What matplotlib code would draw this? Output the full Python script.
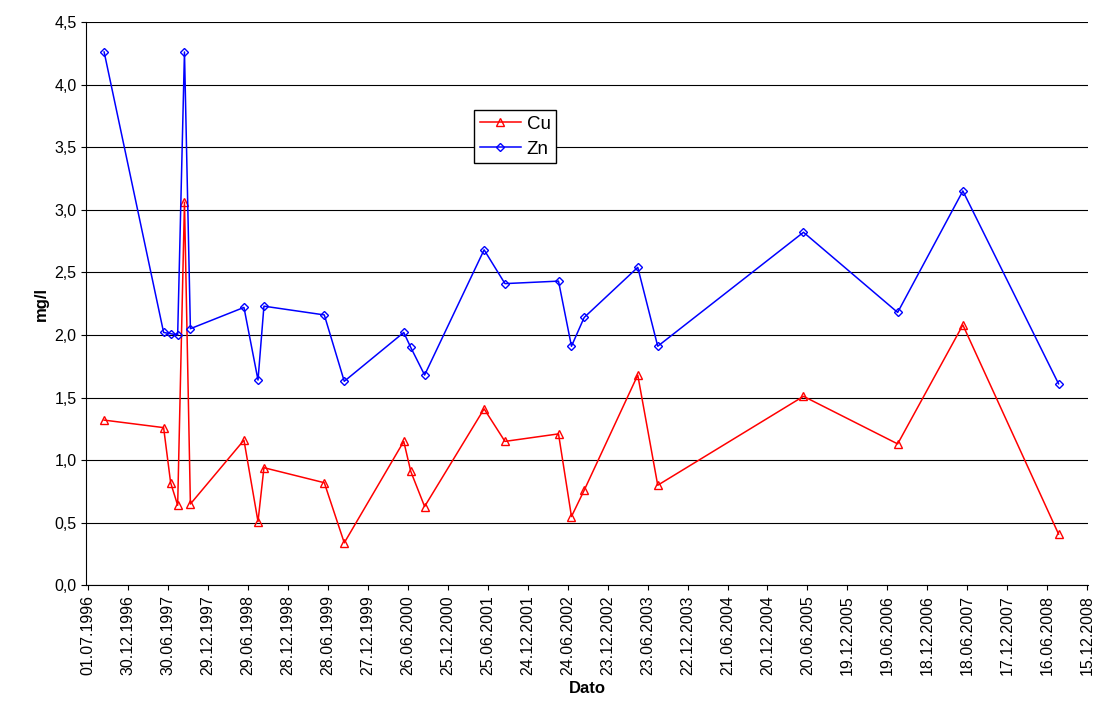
import matplotlib
matplotlib.use("Agg")
import matplotlib.pyplot as plt
import numpy as np
import datetime as dt

plt.rcParams['font.family'] = ['Liberation Sans', 'DejaVu Sans']

dates = ["1996-09-11","1997-06-09","1997-07-11","1997-08-12","1997-09-12","1997-10-09",
         "1998-06-10","1998-08-13","1998-09-09","1999-06-11","1999-09-10","2000-06-07",
         "2000-07-09","2000-09-10","2001-06-08","2001-09-11","2002-05-13","2002-07-11",
         "2002-09-07","2003-05-09","2003-08-08","2005-06-02","2006-08-05","2007-05-29",
         "2008-08-07"]
zn = [4.26,2.02,2.01,2.00,4.26,2.05,2.22,1.64,2.23,2.16,1.63,2.02,1.90,1.68,2.68,2.41,
      2.43,1.91,2.14,2.54,1.91,2.82,2.18,3.15,1.61]
cu = [1.32,1.26,0.82,0.64,3.06,0.65,1.16,0.51,0.94,0.82,0.34,1.15,0.91,0.63,1.41,1.15,
      1.21,0.55,0.76,1.68,0.80,1.51,1.13,2.08,0.41]

x = [dt.datetime.strptime(d, "%Y-%m-%d") for d in dates]
start = dt.datetime(1996, 7, 1)
ticks = [start + dt.timedelta(days=182*i) for i in range(26)]

fig = plt.figure(figsize=(10.93, 7.07), dpi=100)
ax = fig.add_axes([0.079, 0.172, 0.916, 0.797])
ax.plot(x, cu, color="red", marker="^", markersize=6, markerfacecolor="none", lw=1.1, label="Cu")
ax.plot(x, zn, color="blue", marker="D", markersize=4.5, markerfacecolor="none", lw=1.1, label="Zn")
ax.set_ylim(0, 4.5)
ax.set_yticks(np.arange(0, 4.51, 0.5))
ax.set_yticklabels([f"{v:.1f}".replace(".", ",") for v in np.arange(0, 4.51, 0.5)])
ax.set_xlim(start - dt.timedelta(days=9), ticks[-1] + dt.timedelta(days=2))
ax.set_xticks(ticks)
ax.set_xticklabels([t.strftime("%d.%m.%Y") for t in ticks], rotation=90)
ax.grid(axis="y", color="black", lw=0.8)
ax.set_axisbelow(True)
for s in ["top", "right"]:
    ax.spines[s].set_visible(False)
ax.tick_params(labelsize=11.5)
ax.set_ylabel("mg/l", fontsize=12, fontweight="bold")
ax.set_xlabel("Dato", fontsize=12, fontweight="bold")
ax.legend(loc="upper left", bbox_to_anchor=(0.378, 0.86), fancybox=False, edgecolor="black",
          fontsize=13.5, handlelength=2.2, handletextpad=0.3, borderpad=0.3, labelspacing=0.4,
          framealpha=1)
fig.savefig("out.png", dpi=100)
